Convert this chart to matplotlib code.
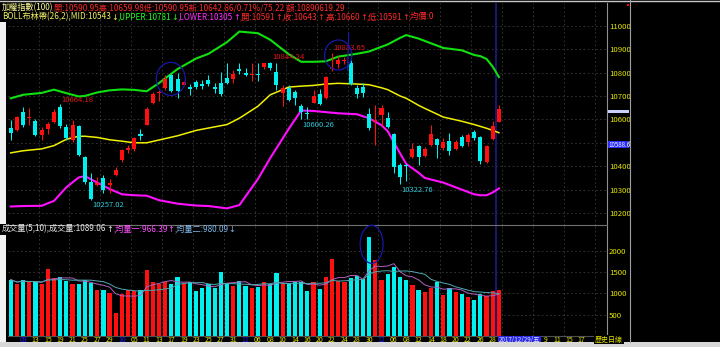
import numpy as np
import pandas as pd
import matplotlib
matplotlib.use('Agg')
import matplotlib.pyplot as plt
from matplotlib.patches import Ellipse, Rectangle
from matplotlib.lines import Line2D
from matplotlib.text import Annotation

plt.rcParams['font.family'] = ['Noto Sans CJK TC', 'DejaVu Sans']

# ---------------- data ----------------
opens = [10565, 10555, 10630, 10606, 10595, 10533, 10557, 10590, 10654, 10569,
         10510, 10572, 10441, 10331, 10320, 10350, 10320, 10362, 10425, 10468,
         10472, 10538, 10576, 10668, 10712, 10735, 10790, 10772, 10747, 10737,
         10758, 10750, 10768, 10738, 10756, 10777, 10771, 10815, 10797, 10790,
         10795, 10825, 10842, 10804, 10714, 10733, 10718, 10657, 10627, 10671,
         10708, 10690, 10814, 10836, 10850, 10839, 10735, 10740, 10622, 10592,
         10618, 10604, 10538, 10405, 10405, 10438, 10486, 10445, 10491, 10516,
         10477, 10508, 10472, 10526, 10505, 10545, 10526, 10419, 10516, 10590.95]
highs = [10597, 10614, 10651, 10650, 10600, 10569, 10590, 10643, 10664.18, 10581,
         10598, 10578, 10445, 10370, 10355, 10362, 10345, 10395, 10475, 10490,
         10525, 10558, 10655, 10715, 10725, 10790, 10795, 10800, 10765, 10750,
         10770, 10768, 10790, 10757, 10802, 10840, 10810, 10840, 10820, 10840,
         10840, 10840, 10844.24, 10840, 10745, 10745, 10726, 10666, 10655, 10726,
         10728, 10785, 10883.65, 10870, 10865, 10853, 10745, 10755, 10647, 10661,
         10661, 10632, 10543, 10415, 10410, 10500, 10491, 10483, 10576, 10520,
         10520, 10541, 10512, 10533, 10541, 10555, 10529, 10491, 10591, 10659.98]
lows = [10512, 10549, 10569, 10576, 10528, 10512, 10539, 10583, 10562, 10512,
        10505, 10442, 10325, 10257.02, 10315, 10285, 10285, 10358, 10420, 10455,
        10465, 10510, 10574, 10665, 10680, 10725, 10718, 10690, 10745, 10705,
        10730, 10728, 10742, 10712, 10702, 10752, 10755, 10795, 10785, 10765,
        10765, 10815, 10810, 10726, 10656, 10680, 10660, 10600.26, 10602, 10668,
        10660, 10688, 10808, 10818, 10835, 10748, 10690, 10695, 10555, 10491,
        10571, 10562, 10373, 10322.76, 10335, 10434, 10405, 10440, 10487, 10434,
        10470, 10448, 10468, 10484, 10487, 10512, 10410, 10415, 10512, 10590.95]
closes = [10541, 10609, 10576, 10610, 10532, 10553, 10579, 10633, 10572, 10519,
          10577, 10448, 10334, 10262, 10330, 10298, 10330, 10385, 10468, 10476,
          10520, 10530, 10643, 10708, 10718, 10771, 10722, 10721, 10760, 10728,
          10737, 10744, 10752, 10730, 10707, 10757, 10794, 10808, 10790, 10793,
          10789, 10840, 10820, 10747, 10733, 10683, 10690, 10633, 10625, 10700,
          10666, 10780, 10821, 10853, 10854, 10752, 10708, 10712, 10562, 10597,
          10650, 10569, 10396, 10355, 10399, 10472, 10441, 10472, 10538, 10491,
          10505, 10467, 10505, 10488, 10533, 10522, 10424, 10486, 10570, 10642.86]
volumes = [1319, 1209, 1319, 1256, 1271, 1225, 1566, 1349, 1380, 1287,
           1209, 1225, 1319, 1240, 1085, 1070, 1008, 543, 992, 1070,
           1054, 1085, 1535, 1256, 1225, 1271, 1209, 1380, 1209, 1256,
           1054, 1116, 1209, 1132, 1488, 1240, 1178, 1287, 1163, 1132,
           1147, 1256, 1209, 1473, 1209, 1240, 1256, 1271, 1054, 1271,
           1101, 1380, 1798, 1287, 1271, 1349, 1395, 1341, 2310, 1791,
           1302, 1457, 1612, 1380, 1302, 1186, 1085, 1039, 1132, 1271,
           953, 1132, 1031, 992, 915, 837, 992, 930, 1054, 1089.06]

band_idx = [0, 2, 5, 7, 9, 11, 12, 14, 16, 18, 20, 22, 24, 27, 30, 32, 35, 37, 40, 42,
            45, 47, 49, 51, 53, 56, 58, 60, 61, 63, 64, 66, 67, 70, 73, 75, 76, 77, 78, 79]
boll_upper = [10690, 10705, 10713, 10727, 10712, 10698, 10700, 10715, 10724, 10728,
              10726, 10720, 10755, 10815, 10860, 10880, 10930, 10975, 10968, 10940,
              10878, 10846, 10846, 10848, 10868, 10880, 10890, 10910, 10920, 10948,
              10960, 10945, 10935, 10905, 10895, 10875, 10870, 10858, 10825, 10781]
boll_mid = [10457, 10466, 10474, 10488, 10515, 10528, 10528, 10523, 10513, 10507,
            10500, 10500, 10512, 10530, 10553, 10563, 10578, 10605, 10656, 10705,
            10738, 10742, 10745, 10751, 10754, 10751, 10748, 10735, 10727, 10700,
            10690, 10660, 10647, 10610, 10592, 10578, 10570, 10562, 10553, 10543]
boll_lower = [10228, 10230, 10231, 10252, 10310, 10352, 10358, 10330, 10303, 10280,
              10276, 10274, 10255, 10240, 10232, 10230, 10220, 10234, 10345, 10435,
              10560, 10638, 10636, 10631, 10626, 10622, 10605, 10575, 10550, 10455,
              10410, 10372, 10350, 10330, 10300, 10280, 10276, 10276, 10288, 10305]

date_idx = [2, 4, 6, 8, 10, 12, 14, 16, 18, 20, 22, 24, 26, 28, 30, 32, 34, 36, 38, 40,
            42, 44, 46, 48, 50, 52, 54, 56, 58, 60, 62, 64, 66, 68, 70, 72, 74, 76, 78,
            86.5, 88.4, 90.4, 92.4]
date_labels = ['09', '13', '15', '19', '21', '25', '27', '29', '10', '05', '11', '13', '17',
               '19', '23', '25', '27', '31', '11', '06', '08', '10', '14', '16', '20', '22',
               '24', '28', '30', '12', '06', '08', '12', '14', '18', '20', '22', '26', '28',
               '9', '11', '15', '17']
month_pos = [0, 8, 18, 29]

price_ticks = [10200, 10300, 10400, 10500, 10600, 10700, 10800, 10900, 11000]
vol_ticks = [500, 1000, 1500, 2000]
hi_marks = [8, 42, 52]
lo_marks = [13, 47, 63]

RED = '#ff1010'
CYAN = '#00f0f0'
YEL = '#e8e800'
W, H = 720, 347

# ---------------- figure ----------------
fig = plt.figure(figsize=(7.2, 3.47), dpi=100, facecolor='black')
ax = fig.add_axes([8 / W, 1 - 225 / H, 599 / W, 222 / H], facecolor='black')
axv = fig.add_axes([8 / W, 1 - 336 / H, 599 / W, 111 / H], facecolor='black')

x = np.arange(len(closes))
o = np.array(opens); c = np.array(closes)
hi = np.array(highs); lo = np.array(lows)
cols = np.where(c >= o, RED, CYAN)

for a in (ax, axv):
    a.set_xlim(-0.44, 96.49)
    for s in ('left', 'top', 'bottom', 'right'):
        a.spines[s].set_visible(False)
    a.spines['right'].set_visible(True)
    a.spines['right'].set_color('#909090')
    a.spines['right'].set_linewidth(0.8)
    a.set_xticks(np.arange(4.5, 97, 5))
    a.tick_params(axis='x', length=0, labelbottom=False)
    a.yaxis.tick_right()
    a.tick_params(axis='y', length=0, pad=1.5, labelsize=5.6, labelcolor=YEL)
    a.grid(True, color='#3a3a3a', ls=(0, (2, 3)), lw=0.6)
    a.set_axisbelow(True)
    a.axvline(78.55, color='#1a1a7a', lw=1.3, zorder=1)

axv.spines['top'].set_visible(True)
axv.spines['top'].set_color('#707070')
axv.spines['top'].set_linewidth(0.8)
axv.spines['bottom'].set_visible(True)
axv.spines['bottom'].set_color('#505050')

# price panel
ax.set_ylim(10149, 11097)
ax.set_yticks(price_ticks)
ax.set_yticklabels([str(t) for t in price_ticks])

ax.plot(band_idx, boll_upper, color='#10e010', lw=1.5, zorder=2)
ax.plot(band_idx, boll_mid, color='#f0f000', lw=1.1, zorder=2)
ax.plot(band_idx, boll_lower, color='#ff10ff', lw=1.5, zorder=2)

ax.vlines(x, lo, hi, colors=cols, lw=0.75, zorder=3)
body = np.maximum(np.abs(c - o), 3)
ax.bar(x, body, bottom=np.minimum(o, c), width=0.65, color=cols, linewidth=0, zorder=4)

for i in hi_marks:
    ax.annotate(f'{highs[i]:.2f}', (i, highs[i]), xytext=(1.2, 0.5), textcoords='offset points',
                ha='left', va='bottom', color='#e01818', fontsize=5.5, zorder=5)
for i in lo_marks:
    ax.annotate(f'{lows[i]:.2f}', (i, lows[i]), xytext=(0.8, -1), textcoords='offset points',
                ha='left', va='top', color='#30c8d8', fontsize=5.5, zorder=5)

# hand drawn marks
ink = '#1818a8'
ax.add_patch(Ellipse((25.9, 10773), 4.7, 141, fill=False, ec=ink, lw=0.9, zorder=6))
ax.add_patch(Ellipse((53.0, 10875), 4.4, 128, fill=False, ec=ink, lw=0.9, zorder=6))
ax.plot([54.7, 54.5], [10968, 10811], color=ink, lw=0.9, zorder=6)

# volume panel
axv.set_ylim(0, 2600)
axv.set_yticks(vol_ticks)
axv.set_yticklabels([str(t) for t in vol_ticks])
axv.bar(x, volumes, width=0.68, color=cols, linewidth=0, zorder=3)
vs = pd.Series(volumes)
axv.plot(x, vs.rolling(5, min_periods=1).mean(), color='#b060c0', lw=0.7, zorder=4)
axv.plot(x, vs.rolling(10, min_periods=1).mean(), color='#50a8b0', lw=0.7, zorder=4)
axv.add_patch(Ellipse((58.4, 2148), 3.7, 890, fill=False, ec=ink, lw=0.9, zorder=6, clip_on=False))

trans = axv.get_xaxis_transform()
for k, (i, lab) in enumerate(zip(date_idx, date_labels)):
    axv.text(i, -0.033, lab, transform=trans, ha='center', va='center', fontsize=5,
             color='#2020ff' if k in month_pos else YEL, clip_on=False)
axv.text(79.0, -0.04, '2017/12/29/五', transform=trans, ha='left', va='center', fontsize=4.5,
         color='#e0e0ff', clip_on=False, zorder=10,
         bbox=dict(boxstyle='square,pad=0.15', fc='#2a2ae0', ec='none'))

# ---------------- window chrome ----------------
fig.add_artist(Rectangle((0, 0), 1, 5 / H, transform=fig.transFigure, fc='#d8d8d8', ec='none'))
fig.add_artist(Rectangle((0, 1 - 224 / H), 6.5 / W, 202 / H, transform=fig.transFigure,
                         fc='#f2f2f2', ec='none'))
fig.add_artist(Rectangle((0, 5 / H), 6.5 / W, (342 - 235) / H, transform=fig.transFigure,
                         fc='#f2f2f2', ec='none'))
fig.add_artist(Line2D([0, 1], [1 - 0.6 / H] * 2, color='#c8c8c8', lw=1))
fig.add_artist(Line2D([629.5 / W] * 2, [5 / H, 1], color='#a0a0a0', lw=0.8))
fig.add_artist(Rectangle((607.7 / W, 1 - 148.3 / H), 21.5 / W, 7.3 / H,
                         transform=fig.transFigure, fc='#2a2aff', ec='none'))
fig.text(608.5 / W, 1 - 144.7 / H, '10588.6', color='#f0f0ff', fontsize=4.5, ha='left', va='center')
fig.add_artist(Rectangle((607.7 / W, 1 - 112.7 / H), 21.5 / W, 2.7 / H,
                         transform=fig.transFigure, fc='#c8d0ff', ec='none'))
fig.add_artist(Rectangle((627 / W, 1 - 6 / H), 2.2 / W, 2 / H,
                         transform=fig.transFigure, fc='#ff0000', ec='none'))
fig.text(595 / W, 1 - 339.5 / H, '歷史日線', color=YEL, fontsize=5, ha='left', va='center',
         bbox=dict(boxstyle='square,pad=0.1', fc='black', ec='none'))


# ---------------- header texts ----------------
def header(parts, px, py, size=5.9):
    t = None
    for part in parts:
        kw = dict(color=part[1], fontsize=size)
        if len(part) > 2:
            kw['family'] = part[2]
        if t is None:
            t = fig.text(px / W, 1 - py / H, part[0], ha='left', va='center', **kw)
        else:
            t = Annotation(part[0], xy=(1, 0), xycoords=t, ha='left', va='bottom',
                           annotation_clip=False, **kw)
            fig.add_artist(t)


DV = 'DejaVu Sans'
HR = '#ff2a2a'
header([('加權指數(100)', '#ffff99'),
        ('開:10590.95高:10659.98低:10590.95新:10642.86/0.71%/75.22 額:10890619.29', HR)], 2, 7.5)
header([('BOLL布林帶(26,2),MID:10543', '#f0f060'), ('↓', '#f0f060', DV),
        (',UPPER:10781', '#20ff20'), ('↓', '#20ff20', DV),
        (',LOWER:10305', '#ff30ff'), ('↑', '#ff30ff', DV),
        (',開:10591', HR), ('↑', HR, DV), (',收:10643', HR), ('↑', HR, DV),
        (',高:10660', HR), ('↑', HR, DV), (',低:10591', HR), ('↑', HR, DV),
        (',均價:0', HR)], 2, 17)
header([('成交量(5,10),成交量:1089.06', '#e8e8e8'), ('↑', '#e8e8e8', DV),
        (',均量一:966.39', '#ff50ff'), ('↑', '#ff50ff', DV),
        (',均量二:980.09', '#80b8e8'), ('↓', '#80b8e8', DV)], 2, 229)

plt.savefig('out.png', dpi=100, facecolor='black')
